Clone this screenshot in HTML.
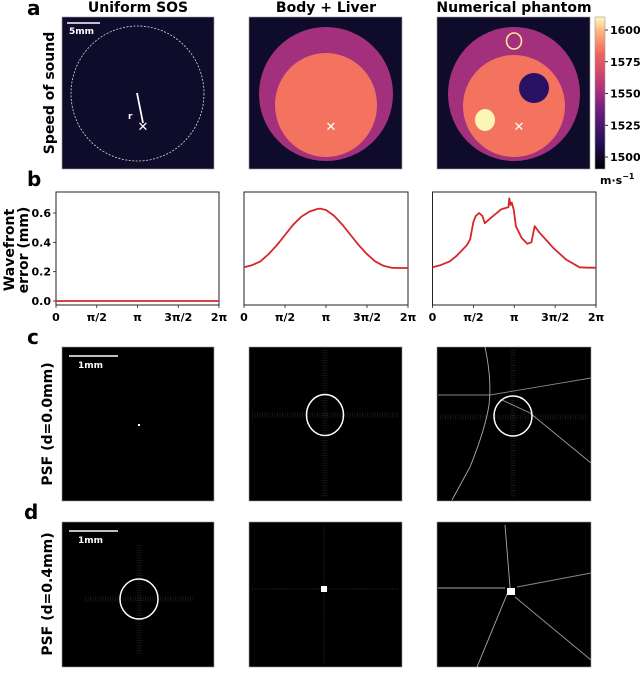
<!DOCTYPE html>
<html><head><meta charset="utf-8"><style>
body{margin:0;background:#fff;}
svg{display:block;font-family:"DejaVu Sans","Liberation Sans",sans-serif;}
.t{font-weight:bold;font-size:14px;text-anchor:middle;}
.tk{font-size:11px;font-weight:bold;font-family:"DejaVu Sans",sans-serif;}
.lab{font-weight:bold;font-size:20px;}
.mk{fill:#fff;font-size:13px;font-weight:bold;text-anchor:middle;}
.tex{stroke:#555;stroke-dasharray:1,1.5;opacity:0.25;}
</style></head><body>
<svg id="fig" width="640" height="676" viewBox="0 0 640 676">
<defs>
<linearGradient id="magma" x1="0" y1="1" x2="0" y2="0">
<stop offset="0" stop-color="#000004"/><stop offset="0.2" stop-color="#2c115f"/><stop offset="0.4" stop-color="#721f81"/><stop offset="0.55" stop-color="#b73779"/><stop offset="0.75" stop-color="#f1605d"/><stop offset="0.9" stop-color="#feb078"/><stop offset="1" stop-color="#fcfdbf"/>
</linearGradient>
</defs>
<text class="lab" x="27" y="15">a</text>
<text class="lab" x="27" y="186">b</text>
<text class="lab" x="27" y="344">c</text>
<text class="lab" x="24" y="519">d</text>
<text class="t" x="138" y="12">Uniform SOS</text>
<text class="t" x="326" y="12">Body + Liver</text>
<text class="t" x="514" y="12">Numerical phantom</text>
<text class="t" transform="translate(54,93) rotate(-90)">Speed of sound</text>
<text class="t" transform="translate(14,250) rotate(-90)">Wavefront</text>
<text class="t" transform="translate(28,250) rotate(-90)">error (mm)</text>
<text class="t" transform="translate(52,424) rotate(-90)">PSF (d=0.0mm)</text>
<text class="t" transform="translate(52,594) rotate(-90)">PSF (d=0.4mm)</text>

<g>
<rect x="62" y="17" width="152" height="152" fill="#0e0b2b" stroke="#999" stroke-width="0.6"/>
<ellipse cx="137.5" cy="93.5" rx="66.5" ry="67.5" fill="none" stroke="#ddd" stroke-width="0.8" stroke-dasharray="2,1.5"/>
<line x1="67" y1="23" x2="100" y2="23" stroke="#fff" stroke-width="1.5"/>
<text x="69" y="34" fill="#fff" font-size="9" font-weight="bold">5mm</text>
<line x1="137" y1="93" x2="143" y2="123" stroke="#fff" stroke-width="1.8"/>
<text class="mk" x="143" y="131">✕</text>
<text x="128" y="119" fill="#fff" font-size="9" font-weight="bold">r</text>
</g>
<g>
<rect x="249" y="17" width="153" height="152" fill="#0e0b2b" stroke="#999" stroke-width="0.6"/>
<ellipse cx="326" cy="94" rx="67" ry="67" fill="#a3307c"/>
<ellipse cx="326" cy="105" rx="51" ry="52" fill="#f3735f"/>
<text class="mk" x="331" y="131">✕</text>
</g>
<g>
<rect x="437" y="17" width="153" height="152" fill="#0e0b2b" stroke="#999" stroke-width="0.6"/>
<ellipse cx="514" cy="94" rx="66" ry="67" fill="#a3307c"/>
<ellipse cx="514" cy="106" rx="51" ry="51" fill="#f3735f"/>
<ellipse cx="514" cy="41" rx="7.5" ry="8" fill="none" stroke="#fbe59a" stroke-width="1.6"/>
<ellipse cx="534" cy="88" rx="15" ry="15" fill="#2a1163"/>
<ellipse cx="485" cy="120" rx="10" ry="11" fill="#fcf6b5"/>
<text class="mk" x="519" y="131">✕</text>
</g>
<g>
<rect x="595" y="17" width="10" height="152" fill="url(#magma)" stroke="#999" stroke-width="0.6"/>
<g id="cbticks"></g>
<text x="600" y="184" font-size="11" font-weight="bold">m·s<tspan dy="-5" font-size="8">−1</tspan></text>
</g>

<g id="plots"></g>

<g>
<rect x="62" y="347" width="152" height="154" fill="#000" stroke="#999" stroke-width="0.6"/>
<line x1="69" y1="356" x2="118" y2="356" stroke="#fff" stroke-width="1.5"/>
<text x="78" y="368" fill="#fff" font-size="9" font-weight="bold">1mm</text>
<rect x="138" y="424" width="2" height="2" fill="#fff"/>
</g>
<g>
<rect x="249" y="347" width="153" height="154" fill="#000" stroke="#999" stroke-width="0.6"/>
<line class="tex" x1="252" y1="415" x2="399" y2="415" stroke-width="5"/>
<line class="tex" x1="325" y1="350" x2="325" y2="498" stroke-width="5"/>
<ellipse cx="325" cy="415" rx="18.5" ry="20.5" fill="none" stroke="#fff" stroke-width="1.5"/>
</g>
<g>
<rect x="437" y="347" width="154" height="154" fill="#000" stroke="#999" stroke-width="0.6"/>
<line class="tex" x1="440" y1="417" x2="588" y2="417" stroke-width="5"/>
<line class="tex" x1="513" y1="350" x2="513" y2="498" stroke-width="5"/>
<path d="M485,347 Q492,380 489,405 Q485,430 470,467 L452,500" fill="none" stroke="#aaa" stroke-width="0.9"/>
<path d="M438,395 L490,395 L591,378" fill="none" stroke="#888" stroke-width="0.9"/>
<path d="M502,400 L530,413 L591,463" fill="none" stroke="#999" stroke-width="0.9"/>
<ellipse cx="513" cy="416" rx="19" ry="20" fill="none" stroke="#fff" stroke-width="1.5"/>
</g>
<g>
<rect x="62" y="522" width="152" height="145" fill="#000" stroke="#999" stroke-width="0.6"/>
<line x1="69" y1="531" x2="118" y2="531" stroke="#fff" stroke-width="1.5"/>
<text x="78" y="543" fill="#fff" font-size="9" font-weight="bold">1mm</text>
<line class="tex" x1="85" y1="599" x2="193" y2="599" stroke-width="5"/>
<line class="tex" x1="139" y1="545" x2="139" y2="655" stroke-width="5"/>
<ellipse cx="139" cy="599" rx="19" ry="20" fill="none" stroke="#fff" stroke-width="1.5"/>
</g>
<g>
<rect x="249" y="522" width="153" height="145" fill="#000" stroke="#999" stroke-width="0.6"/>
<line class="tex" x1="252" y1="589" x2="399" y2="589" stroke-width="2"/>
<line class="tex" x1="324" y1="525" x2="324" y2="664" stroke-width="2"/>
<rect x="321" y="586" width="6" height="6" fill="#fff"/>
</g>
<g>
<rect x="437" y="522" width="154" height="145" fill="#000" stroke="#999" stroke-width="0.6"/>
<path d="M505,525 L510,587 L477,667" fill="none" stroke="#aaa" stroke-width="0.9"/>
<path d="M515,597 L591,660" fill="none" stroke="#999" stroke-width="0.9"/>
<path d="M517,587 L591,573" fill="none" stroke="#888" stroke-width="0.9"/>
<path d="M438,588 L505,588" fill="none" stroke="#888" stroke-width="1.2"/>
<rect x="507" y="588" width="8" height="7" fill="#fff"/>
</g>
</svg>
<script>
const cbTicks=[1500,1525,1550,1575,1600];
const xTickLabels=["0","π/2","π","3π/2","2π"];
const yTicks=[0.0,0.2,0.4,0.6];
const uniformX=[0,2];
const uniformY=[0,0];
const liverX=[0,0.1,0.2,0.3,0.4,0.5,0.6,0.7,0.8,0.9,0.93,1.0,1.1,1.2,1.3,1.4,1.5,1.6,1.7,1.8,1.9,2.0];
const liverY=[0.23,0.245,0.27,0.32,0.38,0.45,0.52,0.575,0.61,0.628,0.63,0.62,0.58,0.52,0.45,0.38,0.32,0.27,0.24,0.226,0.225,0.225];
const phantomX=[0,0.1,0.21,0.3,0.42,0.46,0.5,0.53,0.57,0.61,0.64,0.72,0.84,0.93,0.94,0.955,0.97,0.995,1.02,1.09,1.16,1.21,1.25,1.31,1.4,1.48,1.64,1.8,1.9,2.0];
const phantomY=[0.23,0.245,0.27,0.31,0.38,0.42,0.54,0.58,0.60,0.58,0.53,0.57,0.625,0.64,0.70,0.655,0.67,0.62,0.51,0.43,0.39,0.40,0.51,0.465,0.41,0.36,0.28,0.23,0.227,0.227];

const NS='http://www.w3.org/2000/svg';
function mk(tag,attrs,parent){const e=document.createElementNS(NS,tag);for(const k in attrs)e.setAttribute(k,attrs[k]);parent.appendChild(e);return e;}
const cbG=document.getElementById('cbticks');
function cbY(v){return 157-(v-1500)*1.27;}
cbTicks.forEach(v=>{
  mk('line',{x1:605,x2:608,y1:cbY(v),y2:cbY(v),stroke:'#000','stroke-width':0.8},cbG);
  const t=mk('text',{x:610,y:cbY(v)+4,'font-size':11,'font-weight':'bold'},cbG);
  
  
  t.textContent=v;
});
const plots=document.getElementById('plots');
const panels=[{x0:56,x1:219,xs:uniformX,ys:uniformY,name:'uniform'},{x0:244,x1:408,xs:liverX,ys:liverY,name:'body-liver'},{x0:432.5,x1:596,xs:phantomX,ys:phantomY,name:'phantom'}];
const yTop=192,yBot=305;
function yS(v){return 301-v*146.7;}
panels.forEach((p,i)=>{
  const g=mk('g',{},plots);
  
  
  const xS=v=>p.x0+(v/2)*(p.x1-p.x0);
  mk('rect',{x:p.x0,y:yTop,width:p.x1-p.x0,height:yBot-yTop,fill:'#fff',stroke:'#222','stroke-width':1},g);
  xTickLabels.forEach((lab,k)=>{
    const x=xS(k*0.5);
    mk('line',{x1:x,x2:x,y1:yBot,y2:yBot+3,stroke:'#222','stroke-width':0.8},g);
    const t=mk('text',{x:x,y:yBot+16,'text-anchor':'middle',class:'tk'},g);
    
    
    t.textContent=lab;
  });
  if(i===0){
    yTicks.forEach(v=>{
      mk('line',{x1:p.x0-3,x2:p.x0,y1:yS(v),y2:yS(v),stroke:'#222','stroke-width':0.8},g);
      const t=mk('text',{x:p.x0-5,y:yS(v)+4,'text-anchor':'end',class:'tk'},g);
      
      
      t.textContent=v.toFixed(1);
    });
  }
  const d=p.xs.map((x,k)=>(k?'L':'M')+xS(x).toFixed(1)+','+yS(p.ys[k]).toFixed(1)).join(' ');
  const path=mk('path',{d:d,fill:'none',stroke:'#d62728','stroke-width':1.8,'stroke-linejoin':'round'},g);
  
  
});
</script>
</body></html>
